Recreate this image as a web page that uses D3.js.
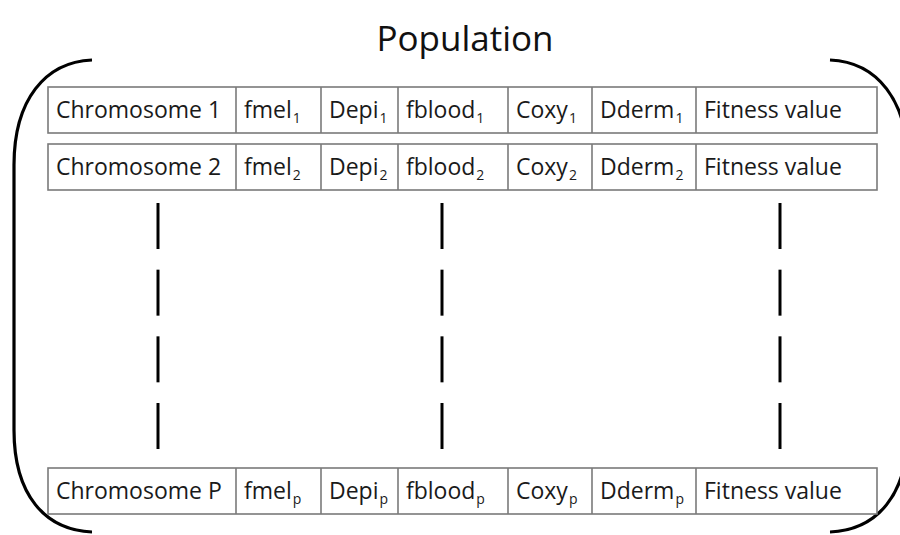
<!DOCTYPE html>
<html><head><meta charset="utf-8">
<script src="https://cdn.jsdelivr.net/npm/d3@7"></script>
<style>body{margin:0;background:#fff;overflow:hidden}</style>
</head><body><svg id="c" width="900" height="535"></svg>
<script>
// ---- data ----
const title = "Population";
const firstColLabel = "Chromosome";
const genes = ["fmel", "Depi", "fblood", "Coxy", "Dderm"];
const lastColLabel = "Fitness value";
const rowIds = ["1", "2", "P"];
const rowSubs = ["1", "2", "p"];
const dashSegments = [0, 1, 2, 3];
const dashColumns = ["a", "b", "c"];

// ---- layout ----
const svg = d3.select("#c");
const font = "'Open Sans', Lato, sans-serif";
const colEdges = [48, 236, 321, 398, 508, 592, 696, 877];
const rowTop = d3.scaleOrdinal().domain(rowIds).range([87, 144, 468]);
const rowH = 46;
const dashX = d3.scaleOrdinal().domain(dashColumns).range([158, 442, 780]);
const dashY = d3.scaleLinear().domain([0, 3]).range([203, 403]);
const dashLen = 46;

// title
svg.append("text").attr("x", 465).attr("y", 51)
  .attr("text-anchor", "middle")
  .style("font-family", font).style("font-size", "35px").attr("fill", "#111")
  .text(title);

// brackets
const bracket = "M92,60 C45,62 14,100 14,165 L14,430 C14,495 45,530 92,532";
svg.append("path").attr("d", bracket).attr("fill", "none")
  .attr("stroke", "#000").attr("stroke-width", 3.2);
svg.append("path").attr("d", bracket).attr("fill", "none")
  .attr("stroke", "#000").attr("stroke-width", 3.2)
  .attr("transform", "translate(922,0) scale(-1,1)");

// rows
rowIds.forEach((id, i) => {
  const y0 = rowTop(id);
  const g = svg.append("g");
  g.append("rect").attr("x", colEdges[0]).attr("y", y0)
    .attr("width", colEdges[colEdges.length - 1] - colEdges[0]).attr("height", rowH)
    .attr("fill", "#fff").attr("stroke", "#7a7a7a").attr("stroke-width", 1.6);
  colEdges.slice(1, -1).forEach(x => {
    g.append("line").attr("x1", x).attr("x2", x).attr("y1", y0).attr("y2", y0 + rowH)
      .attr("stroke", "#7a7a7a").attr("stroke-width", 1.6);
  });
  const base = y0 + rowH / 2 + 8;
  const cells = [{main: firstColLabel + " " + id, sub: null}]
    .concat(genes.map(gn => ({main: gn, sub: rowSubs[i]})))
    .concat([{main: lastColLabel, sub: null}]);
  cells.forEach((c, j) => {
    const t = g.append("text").attr("x", colEdges[j] + 8).attr("y", base)
      .style("font-family", font).style("font-size", "23px").attr("fill", "#1a1a1a");
    t.append("tspan").text(c.main);
    if (c.sub) {
      t.append("tspan").attr("dy", 5).attr("dx", 1).style("font-size", "14px").text(c.sub);
    }
  });
});

// vertical dashes (ellipsis)
dashColumns.forEach(col => {
  dashSegments.forEach(s => {
    svg.append("line").attr("x1", dashX(col)).attr("x2", dashX(col))
      .attr("y1", dashY(s)).attr("y2", dashY(s) + dashLen)
      .attr("stroke", "#000").attr("stroke-width", 3);
  });
});
</script>
</body></html>
